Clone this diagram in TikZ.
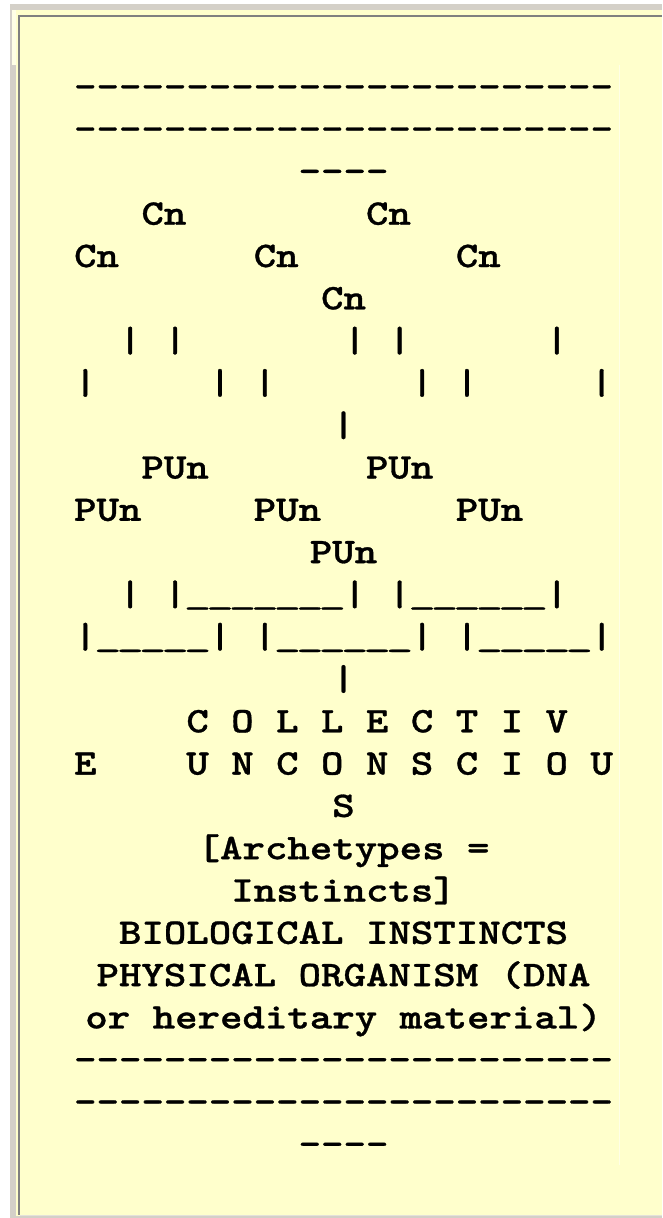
\documentclass[tikz,border=0pt]{standalone}
\usepackage{fontspec}
\usepackage{graphicx}
\newfontfamily\courbf{lmmonolt10-bold.otf}[FakeBold=0.8]
\definecolor{winGray}{HTML}{D4D0C8}
\definecolor{cellY}{HTML}{FFFFCC}
\definecolor{paleY}{HTML}{FFFFE6}
\definecolor{edgeGray}{HTML}{808080}
\definecolor{lowEdge}{HTML}{E4E2DA}
\newcommand\asc[1]{\scalebox{1.188}[1]{\courbf\fontsize{36}{42.3}\selectfont #1}}
\newcommand\us{\makebox[0.525em]{\scalebox{1.2}[0.75]{\_}}}
\tikzset{
  ascii/.style={anchor=base west, inner sep=0pt, outer sep=0pt, text=black}
}
\newcommand\cx[1]{{74.1+22.45*(#1)}}
\newcommand\ry[1]{{97.8+42.3*((#1)-1)}}
\begin{document}
\begin{tikzpicture}[x=1pt,y=-1pt]
\useasboundingbox (0,0) rectangle (662,1218);
% page frame
\fill[white] (0,0) rectangle (662,1218);
\fill[winGray] (10,4) rectangle (662,1218);
\fill[cellY] (16,10) rectangle (662,1216);
\fill[paleY] (12,10) rectangle (16,65);
\fill[edgeGray] (18,15) rectangle (20,1215);
\fill[edgeGray] (18,15) rectangle (662,16.5);
\fill[lowEdge] (20,1215) rectangle (662,1216);
\draw[paleY, line width=1pt] (619,65) -- (619,1165);
% text lines
\node[ascii] (l1)  at (\cx{0},\ry{1})  {\asc{------------------------}};
\node[ascii] (l2)  at (\cx{0},\ry{2})  {\asc{------------------------}};
\node[ascii] (l3)  at (\cx{10},\ry{3}) {\asc{----}};
\node[ascii] (l4)  at (\cx{3},\ry{4})  {\asc{Cn~~~~~~~~Cn}};
\node[ascii] (l5)  at (\cx{0},\ry{5})  {\asc{Cn~~~~~~Cn~~~~~~~Cn}};
\node[ascii] (l6)  at (\cx{11},\ry{6}) {\asc{Cn}};
\node[ascii] (l7)  at (\cx{2},\ry{7})  {\asc{|~|~~~~~~~|~|~~~~~~|}};
\node[ascii] (l8)  at (\cx{0},\ry{8})  {\asc{|~~~~~|~|~~~~~~|~|~~~~~|}};
\node[ascii] (l9)  at (\cx{11.5},\ry{9}) {\asc{|}};
\node[ascii] (l10) at (\cx{3},\ry{10}) {\asc{PUn~~~~~~~PUn}};
\node[ascii] (l11) at (\cx{0},\ry{11}) {\asc{PUn~~~~~PUn~~~~~~PUn}};
\node[ascii] (l12) at (\cx{10.5},\ry{12}) {\asc{PUn}};
\node[ascii] (l13) at (\cx{2},\ry{13}) {\asc{|~|\us\us\us\us\us\us\us|~|\us\us\us\us\us\us|}};
\node[ascii] (l14) at (\cx{0},\ry{14}) {\asc{|\us\us\us\us\us|~|\us\us\us\us\us\us|~|\us\us\us\us\us|}};
\node[ascii] (l15) at (\cx{11.5},\ry{15}) {\asc{|}};
\node[ascii] (l16) at (\cx{5},\ry{16}) {\asc{C~O~L~L~E~C~T~I~V}};
\node[ascii] (l17) at (\cx{0},\ry{17}) {\asc{E~~~~U~N~C~O~N~S~C~I~O~U}};
\node[ascii] (l18) at (\cx{11.5},\ry{18}) {\asc{S}};
\node[ascii] (l19) at (\cx{5.5},\ry{19}) {\asc{[Archetypes~=}};
\node[ascii] (l20) at (\cx{7},\ry{20}) {\asc{Instincts]}};
\node[ascii] (l21) at (\cx{2},\ry{21}) {\asc{BIOLOGICAL~INSTINCTS}};
\node[ascii] (l22) at (\cx{1},\ry{22}) {\asc{PHYSICAL~ORGANISM~(DNA}};
\node[ascii] (l23) at (\cx{0.5},\ry{23}) {\asc{or~hereditary~material)}};
\node[ascii] (l24) at (\cx{0},\ry{24}) {\asc{------------------------}};
\node[ascii] (l25) at (\cx{0},\ry{25}) {\asc{------------------------}};
\node[ascii] (l26) at (\cx{10},\ry{26}) {\asc{----}};
\end{tikzpicture}
\end{document}
